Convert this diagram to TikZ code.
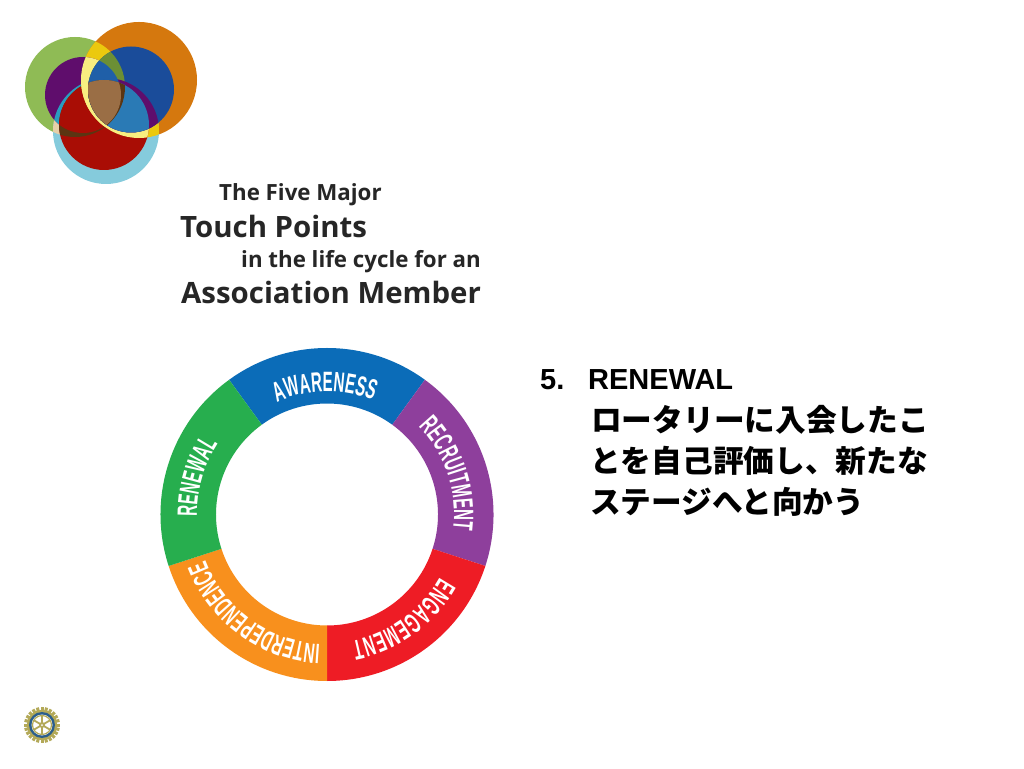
\documentclass[tikz,border=0pt]{standalone}
\usepackage{fontspec}
\usetikzlibrary{decorations.text}
\setmainfont{Liberation Sans}
\newfontfamily\titlefont{Open Sans}
\newfontfamily\bandfont[FakeStretch=0.54]{Liberation Sans}
\newfontfamily\cjk{Noto Sans CJK JP}
\definecolor{bandblue}{HTML}{0B6CB8}
\definecolor{bandpurple}{HTML}{8E3F9C}
\definecolor{bandred}{HTML}{EE1C25}
\definecolor{bandorange}{HTML}{F8901D}
\definecolor{bandgreen}{HTML}{27AE4E}
\definecolor{gearcol}{HTML}{B3A958}
% logo circles
\def\cgreen{(75,681) circle (50)}
\def\cpurple{(83,673) circle (38)}
\def\corange{(139,688) circle (58)}
\def\cblue{(131,678.5) circle (43)}
\def\clight{(106,637) circle (53)}
\def\cred{(104,643) circle (45)}
\newcommand{\lap}[3]{\begin{scope}\clip #1;\fill[#3] #2;\end{scope}}
\newcommand{\lapp}[4]{\begin{scope}\clip #1;\clip #2;\fill[#4] #3;\end{scope}}
\tikzset{
  bandtext/.style={decorate,decoration={text along path,text={|\bandfont\bfseries\fontsize{28}{28}\selectfont|#1},
    text color=white,text align=fit to path}},
  bigtitle/.style={anchor=base west,inner sep=0pt,font=\titlefont\bfseries\fontsize{29.4}{29.4}\selectfont,text=black!85},
  smalltitle/.style={anchor=base west,inner sep=0pt,font=\titlefont\bfseries\fontsize{22.3}{22.3}\selectfont,text=black!85},
  latinline/.style={anchor=base west,inner sep=0pt,font=\bfseries\fontsize{29}{29}\selectfont},
  cjkline/.style={anchor=base west,inner sep=0pt,font=\cjk\bfseries\fontsize{30.7}{30.7}\selectfont},
}
\begin{document}
\begin{tikzpicture}[x=1pt,y=1pt]
    \useasboundingbox (0,0) rectangle (1024,768);
    % logo, base circles
    \fill[fill=white] (0,0) rectangle (1024,768);
    \fill[color={rgb,255:red,143;green,187;blue,85}] \cgreen;
    \fill[color={rgb,255:red,213;green,120;blue,14}] \corange;
    \fill[color={rgb,255:red,133;green,203;blue,220}] \clight;
    \lap{\cgreen}{\corange}{color={rgb,255:red,235;green,201;blue,14}}
    \lap{\cgreen}{\clight}{color={rgb,255:red,230;green,207;blue,168}}
    \lap{\corange}{\clight}{color={rgb,255:red,235;green,201;blue,14}}
    % logo, inner circles
    \fill[color={rgb,255:red,95;green,13;blue,108}] \cpurple;
    \fill[color={rgb,255:red,169;green,13;blue,5}] \cred;
    \lap{\cpurple}{\clight}{color={rgb,255:red,42;green,156;blue,192}}
    \lap{\cred}{\cgreen}{color={rgb,255:red,91;green,53;blue,18}}
    \lap{\cred}{\cpurple}{color={rgb,255:red,169;green,13;blue,5}}
    \lap{\corange}{\cpurple}{color={rgb,255:red,248;green,238;blue,128}}
    \lap{\corange}{\cred}{color={rgb,255:red,248;green,238;blue,128}}
    % logo, blue circle and its overlaps
    \fill[color={rgb,255:red,26;green,76;blue,154}] \cblue;
    \lap{\cblue}{\cgreen}{color={rgb,255:red,108;green,143;blue,53}}
    \lap{\cblue}{\clight}{color={rgb,255:red,95;green,13;blue,108}}
    \lap{\cblue}{\cpurple}{color={rgb,255:red,31;green,95;blue,168}}
    \lap{\cblue}{\cred}{color={rgb,255:red,42;green,122;blue,181}}
    \lapp{\cblue}{\cred}{\cgreen}{color={rgb,255:red,91;green,53;blue,18}}
    \lapp{\cblue}{\cred}{\cpurple}{color={rgb,255:red,154;green,110;blue,69}}
    % title lines
    \node[smalltitle] (five) at (219,567) {The Five Major};
    \node[bigtitle] (touch) at (180,530) {Touch Points};
    \node[smalltitle] (cycle) at (241,500) {in the life cycle for an};
    \node[bigtitle] (member) at (181,464) {Association Member};
    % ring segments
    \foreach \a/\col in {54/bandblue,-18/bandpurple,-90/bandred,198/bandorange,126/bandgreen}{
      \fill[\col] (327,253.5) ++(\a:166.5) arc[start angle=\a,delta angle=72,radius=166.5]
        -- ++(\a+72:-55.5) arc[start angle=\a+72,delta angle=-72,radius=111] -- cycle;
    }
    % ring labels, all clockwise
    \path[bandtext=AWARENESS] (327,253.5) ++(114:123) arc[start angle=114,end angle=68,radius=123];
    \path[bandtext=RECRUITMENT] (327,253.5) ++(44:127) arc[start angle=44,end angle=-7,radius=127];
    \path[bandtext=ENGAGEMENT] (327,253.5) ++(-29:129) arc[start angle=-29,end angle=-79,radius=129];
    \path[bandtext=INTERDEPENDENCE] (327,253.5) ++(-93:130) arc[start angle=-93,end angle=-158,radius=130];
    \path[bandtext=RENEWAL] (327,253.5) ++(181:130) arc[start angle=181,end angle=147,radius=130];
    % right text
    \node[latinline] (num) at (540,378) {5.};
    \node[latinline] (head) at (588,378) {RENEWAL};
    \node[cjkline] (lineone) at (591,336) {ロータリーに入会したこ};
    \node[cjkline] (linetwo) at (590,295) {とを自己評価し、新たな};
    \node[cjkline] (linethree) at (590,254) {ステージへと向かう};
    % small emblem
    \foreach \a in {0,15,...,345}{
      \draw[gearcol,line width=3pt] (42,43) ++(\a:13) -- ++(\a:5);
    }
    \fill[gearcol] (42,43) circle (15);
    \fill[color={rgb,255:red,43;green,94;blue,140}] (42,43) circle (13);
    \fill[white] (42,43) circle (10.5);
    \draw[gearcol,line width=1.2pt] (42,43) circle (9.5);
    \foreach \a in {30,90,...,330}{
      \draw[gearcol,line width=1.8pt] (42,43) -- ++(\a:9.5);
    }
    \fill[gearcol] (42,43) circle (3);
    \fill[white] (42,43) circle (1);
\end{tikzpicture}
\end{document}
